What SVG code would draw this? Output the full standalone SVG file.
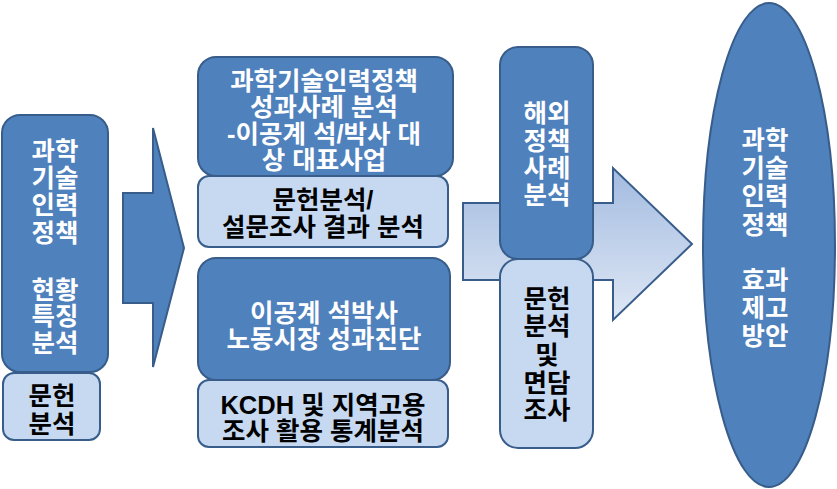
<svg xmlns="http://www.w3.org/2000/svg" width="837" height="489" viewBox="0 0 837 489">
<defs>
<linearGradient id="ag" x1="0" y1="0" x2="0" y2="1">
<stop offset="0" stop-color="#a3bbe0"/>
<stop offset="1" stop-color="#dfe8f5"/>
</linearGradient>
</defs>
<style>
.dk{fill:#4f81bd;stroke:#385d8a;stroke-width:2}
.lt{fill:#c6d9f1;stroke:#385d8a;stroke-width:2}
text{font-family:"Liberation Sans","Noto Sans CJK KR",sans-serif;font-weight:bold;font-size:25.5px;text-anchor:middle;dominant-baseline:central}
.w{fill:#ffffff}
.b{fill:#000000}
</style>
<rect width="837" height="489" fill="#ffffff"/>
<g id="connectors">
<polygon class="dk" points="123,193 153,193 153,128 184,248 153,367 153,303 123,303"/>
<polygon fill="url(#ag)" stroke="#385d8a" stroke-width="2" points="463,203 613,203 613,168 692,244 613,320 613,280 463,280"/>
</g>
<g id="n1">
<rect class="dk" x="2" y="115" width="106" height="257" rx="18"/>
<text class="w" x="55" y="151">과학</text>
<text class="w" x="55" y="178">기술</text>
<text class="w" x="55" y="205">인력</text>
<text class="w" x="55" y="233">정책</text>
<text class="w" x="55" y="290">현황</text>
<text class="w" x="55" y="316">특징</text>
<text class="w" x="55" y="343">분석</text>
</g>
<g id="n1b">
<rect class="lt" x="3" y="373" width="97" height="67" rx="11"/>
<text class="b" x="52" y="396">문헌</text>
<text class="b" x="52" y="424">분석</text>
</g>
<g id="n2">
<rect class="dk" x="198" y="57" width="255" height="119" rx="18"/>
<text class="w" x="324" y="81">과학기술인력정책</text>
<text class="w" x="324" y="107">성과사례 분석</text>
<text class="w" x="324" y="134">-이공계 석/박사 대</text>
<text class="w" x="324" y="160">상 대표사업</text>
</g>
<g id="n2b">
<rect class="lt" x="198" y="176" width="250" height="71" rx="11"/>
<text class="b" x="323" y="200">문헌분석/</text>
<text class="b" x="323" y="227">설문조사 결과 분석</text>
</g>
<g id="n3">
<rect class="dk" x="198" y="258" width="252" height="122" rx="18"/>
<text class="w" x="324" y="313">이공계 석박사</text>
<text class="w" x="324" y="339">노동시장 성과진단</text>
</g>
<g id="n3b">
<rect class="lt" x="198" y="380" width="250" height="67" rx="11"/>
<text class="b" x="323" y="405">KCDH 및 지역고용</text>
<text class="b" x="323" y="431">조사 활용 통계분석</text>
</g>
<g id="n4">
<rect class="dk" x="500" y="47" width="93" height="212" rx="18"/>
<text class="w" x="547" y="113">해외</text>
<text class="w" x="547" y="141">정책</text>
<text class="w" x="547" y="168">사례</text>
<text class="w" x="547" y="195">분석</text>
</g>
<g id="n4b">
<rect class="lt" x="500" y="259" width="93" height="189" rx="18"/>
<text class="b" x="547" y="299">문헌</text>
<text class="b" x="547" y="326">분석</text>
<text class="b" x="547" y="355">및</text>
<text class="b" x="547" y="383">면담</text>
<text class="b" x="547" y="410">조사</text>
</g>
<g id="n5">
<ellipse class="dk" cx="769" cy="245" rx="66" ry="242"/>
<text class="w" x="765" y="140">과학</text>
<text class="w" x="765" y="168">기술</text>
<text class="w" x="765" y="196">인력</text>
<text class="w" x="765" y="225">정책</text>
<text class="w" x="765" y="280">효과</text>
<text class="w" x="765" y="308">제고</text>
<text class="w" x="765" y="336">방안</text>
</g>
</svg>
